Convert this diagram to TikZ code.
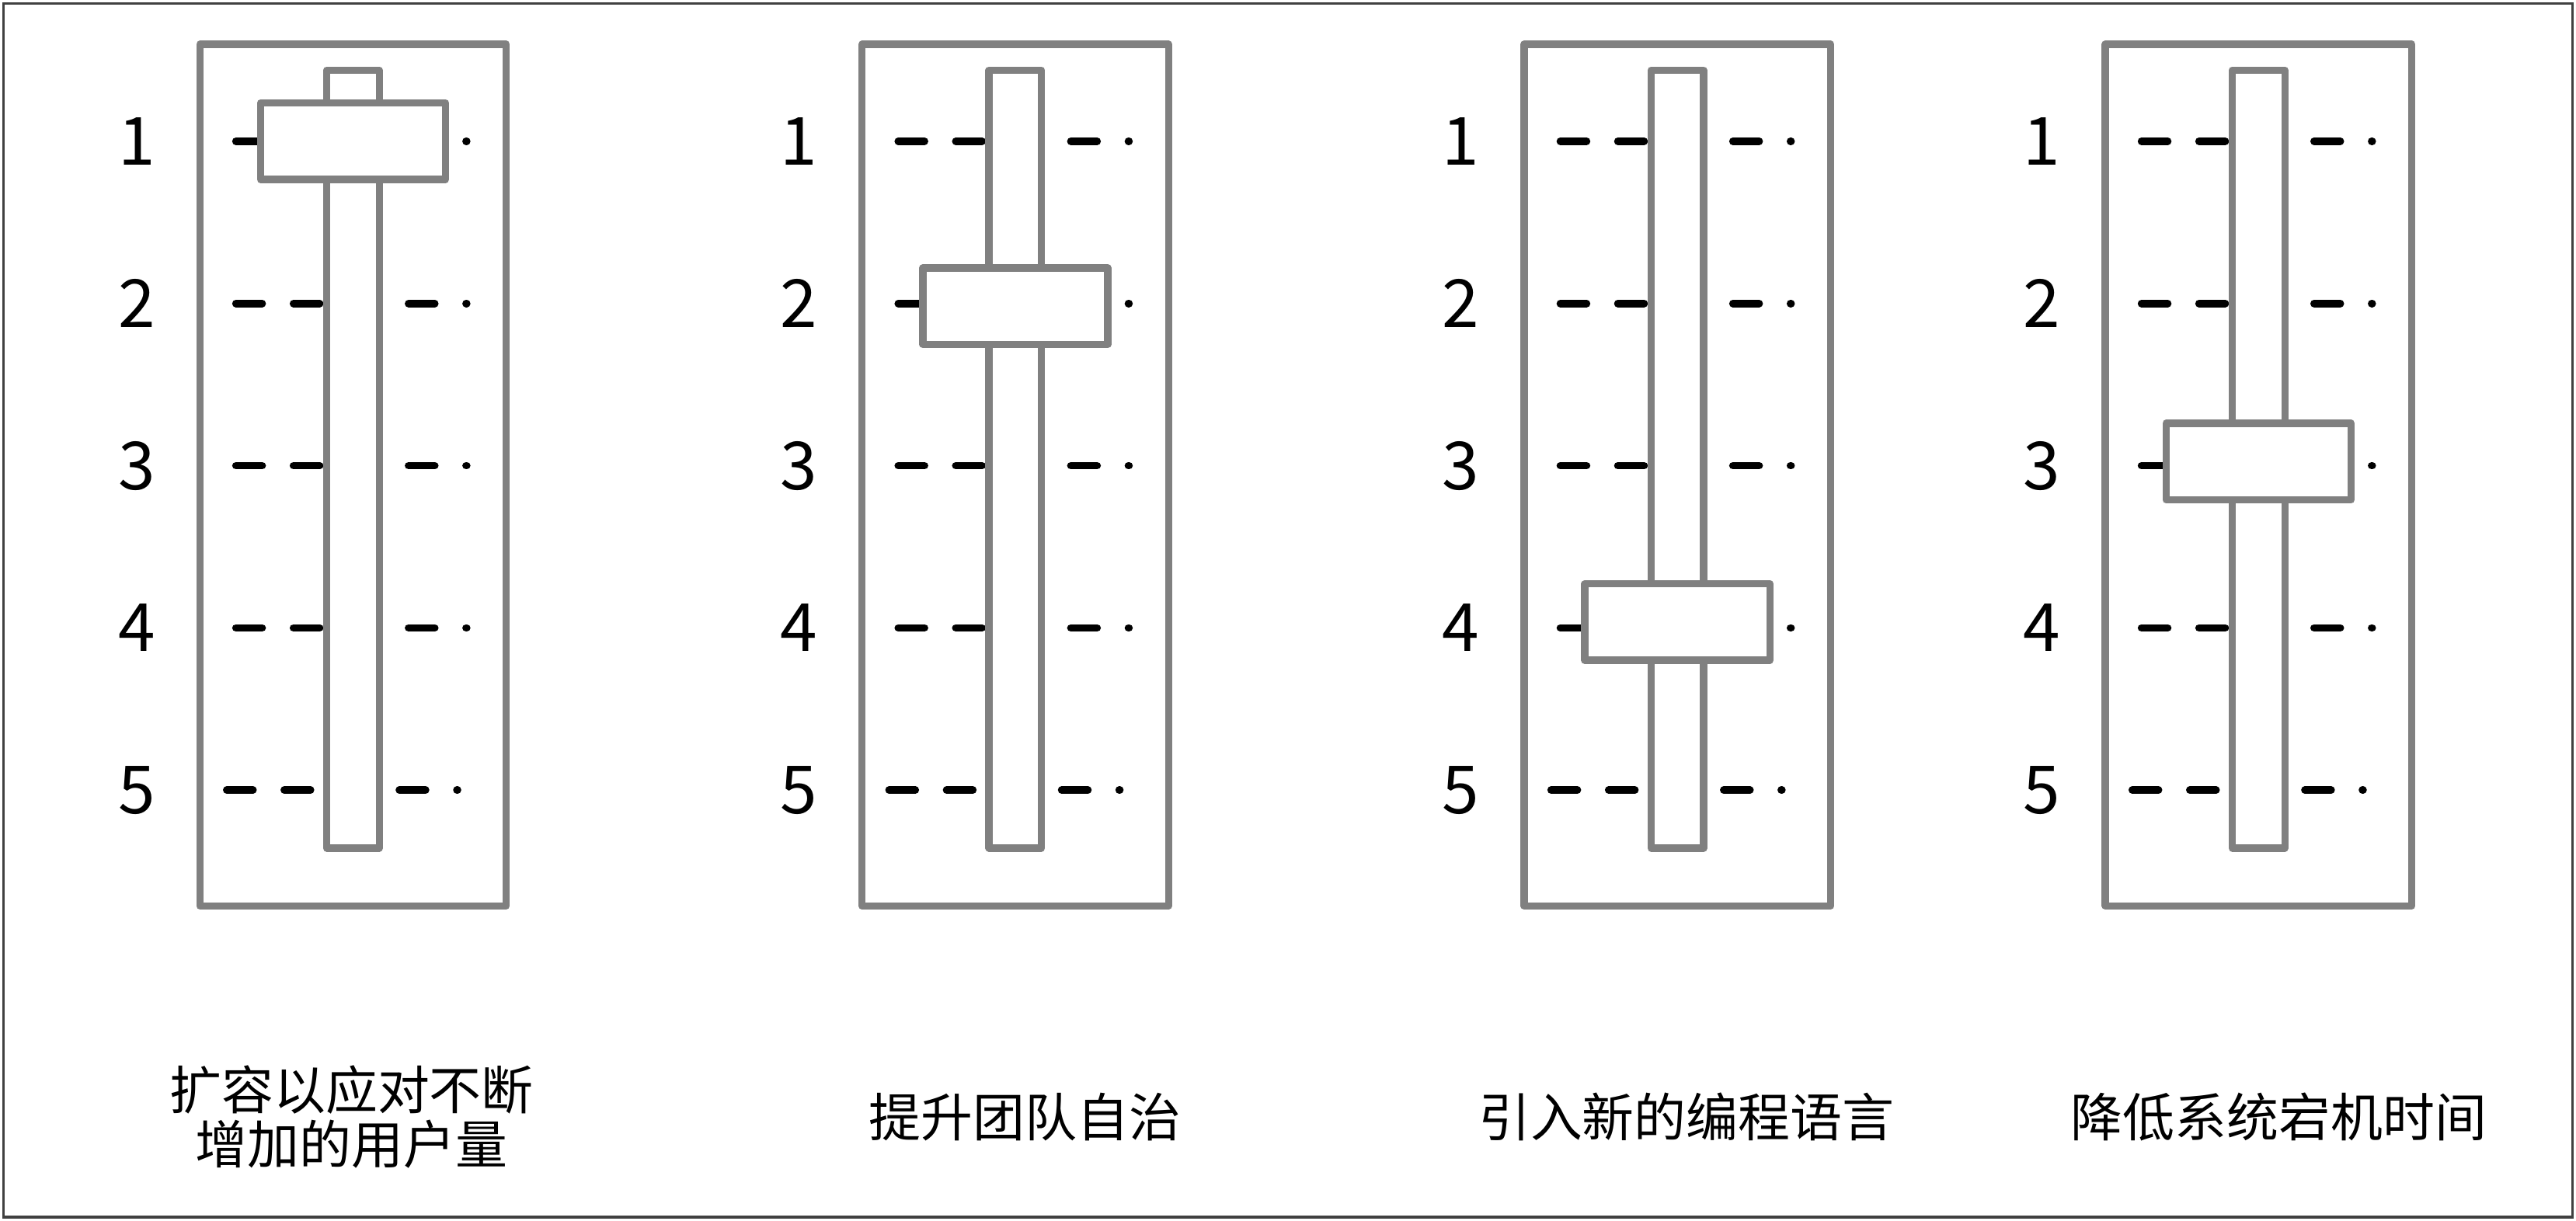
\documentclass[tikz,border=0pt]{standalone}
\usepackage{fontspec}
\setmainfont{Noto Sans CJK SC}

\tikzset{
  frame/.style={draw=black!75, line width=0.45pt},
  panel/.style={draw=gray, line width=1.25pt, line join=round},
  slot/.style={draw=gray, fill=white, line width=1.25pt, line join=round},
  knob/.style={draw=gray, fill=white, line width=1.25pt, line join=round},
  tick/.style={line width=1.3pt, line cap=round, dash pattern=on 0.16cm off 0.19cm},
  level/.style={font=\fontsize{11.5}{14}\selectfont},
  caption/.style={font=\fontsize{9}{9.3}\selectfont, align=center},
}

\begin{document}
\begin{tikzpicture}[x=0.01cm, y=-0.01cm]

    % page and outer frame
    \useasboundingbox (0,0) rectangle (1568,743);
    \draw[frame] (2,2) rectangle (1566,741);

    % sliders: number / left edge of panel / knob height
    \foreach \p/\pl/\ky in {1/121.6/86, 2/524.75/186.4, 3/927.75/378.7, 4/1281.5/281} {

        % panel
        \draw[panel] (\pl,27) rectangle ++(186.5,524.5);

        % levels
        \foreach \r/\y in {1/86, 2/184.75, 3/283.5, 4/382.25}
            \draw[tick] (\pl+22,\y) -- ++(140.5,0);
        \draw[tick] (\pl+16.4,481) -- ++(140.5,0);

        \foreach \r/\y in {1/86, 2/184.75, 3/283.5, 4/382.25, 5/481}
            \node[level] (n\p\r) at (\pl-38.5,\y) {\r};

        % slot and knob
        \draw[slot] (\pl+77.25,42.7) rectangle ++(32,473.6);
        \draw[knob] (\pl+36.95,\ky-23.3) rectangle ++(112.6,46.6);
    }

    % captions
    \node[caption] (cap1) at (214,680) {扩容以应对不断\\增加的用户量};
    \node[caption] (cap2) at (624,680) {提升团队自治};
    \node[caption] (cap3) at (1026.5,680) {引入新的编程语言};
    \node[caption] (cap4) at (1387,680) {降低系统宕机时间};

\end{tikzpicture}
\end{document}
